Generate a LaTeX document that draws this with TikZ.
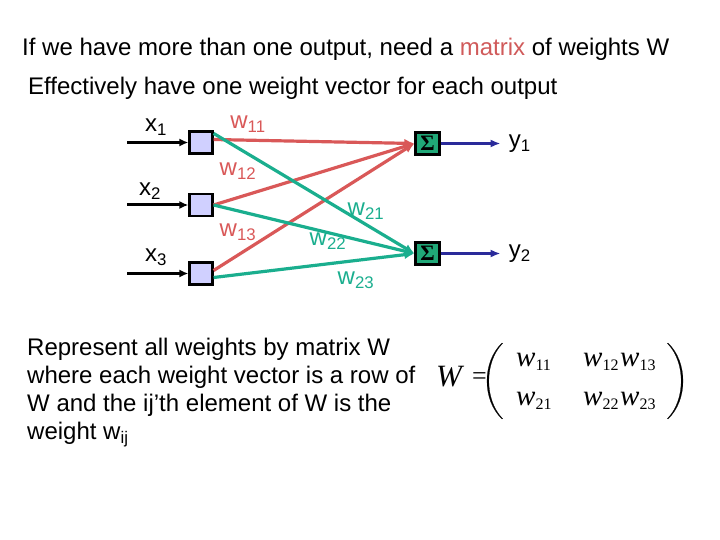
\documentclass[tikz,border=0pt]{standalone}
\usepackage{fontspec}
\setmainfont{Liberation Sans}
\newfontfamily\timesfont{Liberation Serif}
\usepackage{xcolor}
\definecolor{cRed}{HTML}{D95858}
\definecolor{cGreen}{HTML}{1AAE8E}
\definecolor{cSum}{HTML}{20A878}
\definecolor{cBox}{HTML}{D0D0FF}
\definecolor{cBlue}{HTML}{2A2A9A}
\definecolor{cWord}{HTML}{D05A5A}
\usepackage{tikz}
\usetikzlibrary{positioning,arrows.meta}
\newcommand{\wsub}[1]{w\raisebox{-4pt}{\fontsize{16}{16}\selectfont\upshape #1}}
\tikzset{
  node-in/.style={draw=black,line width=2.2pt,fill=cBox,minimum width=23pt,
    minimum height=22pt,inner sep=0pt},
  node-sum/.style={draw=black,line width=2.2pt,fill=cSum,minimum width=24pt,
    minimum height=22pt,inner sep=0pt,font=\timesfont\bfseries\fontsize{22}{22}\selectfont},
  node-lbl/.style={inner sep=0pt,font=\fontsize{24}{24}\selectfont},
  node-w-red/.style={node-lbl,text=cRed},
  node-w-green/.style={node-lbl,text=cGreen},
  node-txt/.style={inner sep=0pt,anchor=base west},
  node-mat/.style={inner sep=0pt,anchor=base west,
    font=\timesfont\itshape\fontsize{29}{29}\selectfont},
  arrow-in/.style={-{Latex[length=9pt,width=8pt]},line width=3pt,draw=black},
  arrow-red/.style={-{Latex[length=10pt,width=9pt]},line width=3.2pt,draw=cRed},
  arrow-green/.style={-{Latex[length=10pt,width=9pt]},line width=3.2pt,draw=cGreen},
  arrow-out/.style={-{Latex[length=10pt,width=8pt]},line width=3pt,draw=cBlue},
  paren/.style={fill=black,draw=black,line width=0.2pt},
}

\begin{document}
\begin{tikzpicture}[x=1pt,y=-1pt,node distance=8pt and 60pt]
  \useasboundingbox (0,0) rectangle (720,540);
  % heading
  \node[node-txt,font=\fontsize{24}{24}\selectfont] (head1) at (22,56)
    {If we have more than one output, need a \textcolor{cWord}{matrix} of weights W};
  \node[node-txt,font=\fontsize{24}{24}\selectfont] (head2) at (28,95)
    {Effectively have one weight vector for each output};
  % network
  \node[node-in] (b1) at (201,142.5) {};
  \node[node-in] (b2) at (201,205) {};
  \node[node-in] (b3) at (201,273.5) {};
  \node[node-sum] (s1) at (427.5,143.5) {Σ};
  \node[node-sum] (s2) at (427.5,253.5) {Σ};
  \coordinate (i1) at (127,142.5);
  \coordinate (i2) at (127,205);
  \coordinate (i3) at (127,273.5);
  \coordinate[right=60pt of s1] (o1);
  \coordinate[right=60pt of s2] (o2);
  \node[node-lbl] (x1) at (156,127) {x\textsubscript{1}};
  \node[node-lbl] (x2) at (150,191) {x\textsubscript{2}};
  \node[node-lbl] (x3) at (156,257) {x\textsubscript{3}};
  \node[node-lbl,right=8pt of o1] (y1) {y\textsubscript{1}};
  \node[node-lbl,right=8pt of o2] (y2) {y\textsubscript{2}};
  \draw[arrow-in] (i1) -- (b1);
  \draw[arrow-in] (i2) -- (b2);
  \draw[arrow-in] (i3) -- (b3);
  \draw[arrow-red] ([yshift=3pt]b1.east) -- (s1.west);
  \draw[arrow-red] (b2.east) -- (s1.west);
  \draw[arrow-red] ([yshift=3pt]b3.east) -- (s1.west);
  \draw[arrow-green] ([yshift=-3pt]b1.north east) -- (s2.west);
  \draw[arrow-green] (b2.east) -- (s2.west);
  \draw[arrow-green] ([yshift=-4pt]b3.east) -- (s2.west);
  \draw[arrow-out] (s1) -- (o1);
  \draw[arrow-out] (s2) -- (o2);
  \node[node-w-red] (w11) at (248,124) {w\textsubscript{11}};
  \node[node-w-red] (w12) at (238,171) {w\textsubscript{12}};
  \node[node-w-red] (w13) at (238,232) {w\textsubscript{13}};
  \node[node-w-green] (w21) at (366,211) {w\textsubscript{21}};
  \node[node-w-green] (w22) at (328,241) {w\textsubscript{22}};
  \node[node-w-green] (w23) at (356,280) {w\textsubscript{23}};
  % explanation
  \node[node-txt,anchor=north west,align=left,
    font=\fontsize{24}{28}\selectfont] (expl) at (27,338)
    {Represent all weights by matrix W\\
     where each weight vector is a row of\\
     W and the ij’th element of W is the\\
     weight w\textsubscript{ij}};
  % matrix
  \node[node-mat,font=\timesfont\itshape\fontsize{31}{31}\selectfont] (eq) at (436,386) {W};
  \node[node-mat,font=\timesfont\fontsize{26}{26}\selectfont] (eqs) at (472,384) {=};
  \draw[paren] (502,343) .. controls (482,362) and (482,400) .. (502,419)
    -- (502.6,418.6) .. controls (484.2,400) and (484.2,362) .. (502.6,343.4) -- cycle;
  \draw[paren] (668,343) .. controls (688,362) and (688,400) .. (668,419)
    -- (667.4,418.6) .. controls (685.8,400) and (685.8,362) .. (667.4,343.4) -- cycle;
  \node[node-mat] (m11) at (516,366) {\wsub{11}};
  \node[node-mat] (m12) at (583,366) {\wsub{12}};
  \node[node-mat] (m13) at (620,366) {\wsub{13}};
  \node[node-mat] (m21) at (516,405) {\wsub{21}};
  \node[node-mat] (m22) at (583,405) {\wsub{22}};
  \node[node-mat] (m23) at (620,405) {\wsub{23}};
\end{tikzpicture}
\end{document}
